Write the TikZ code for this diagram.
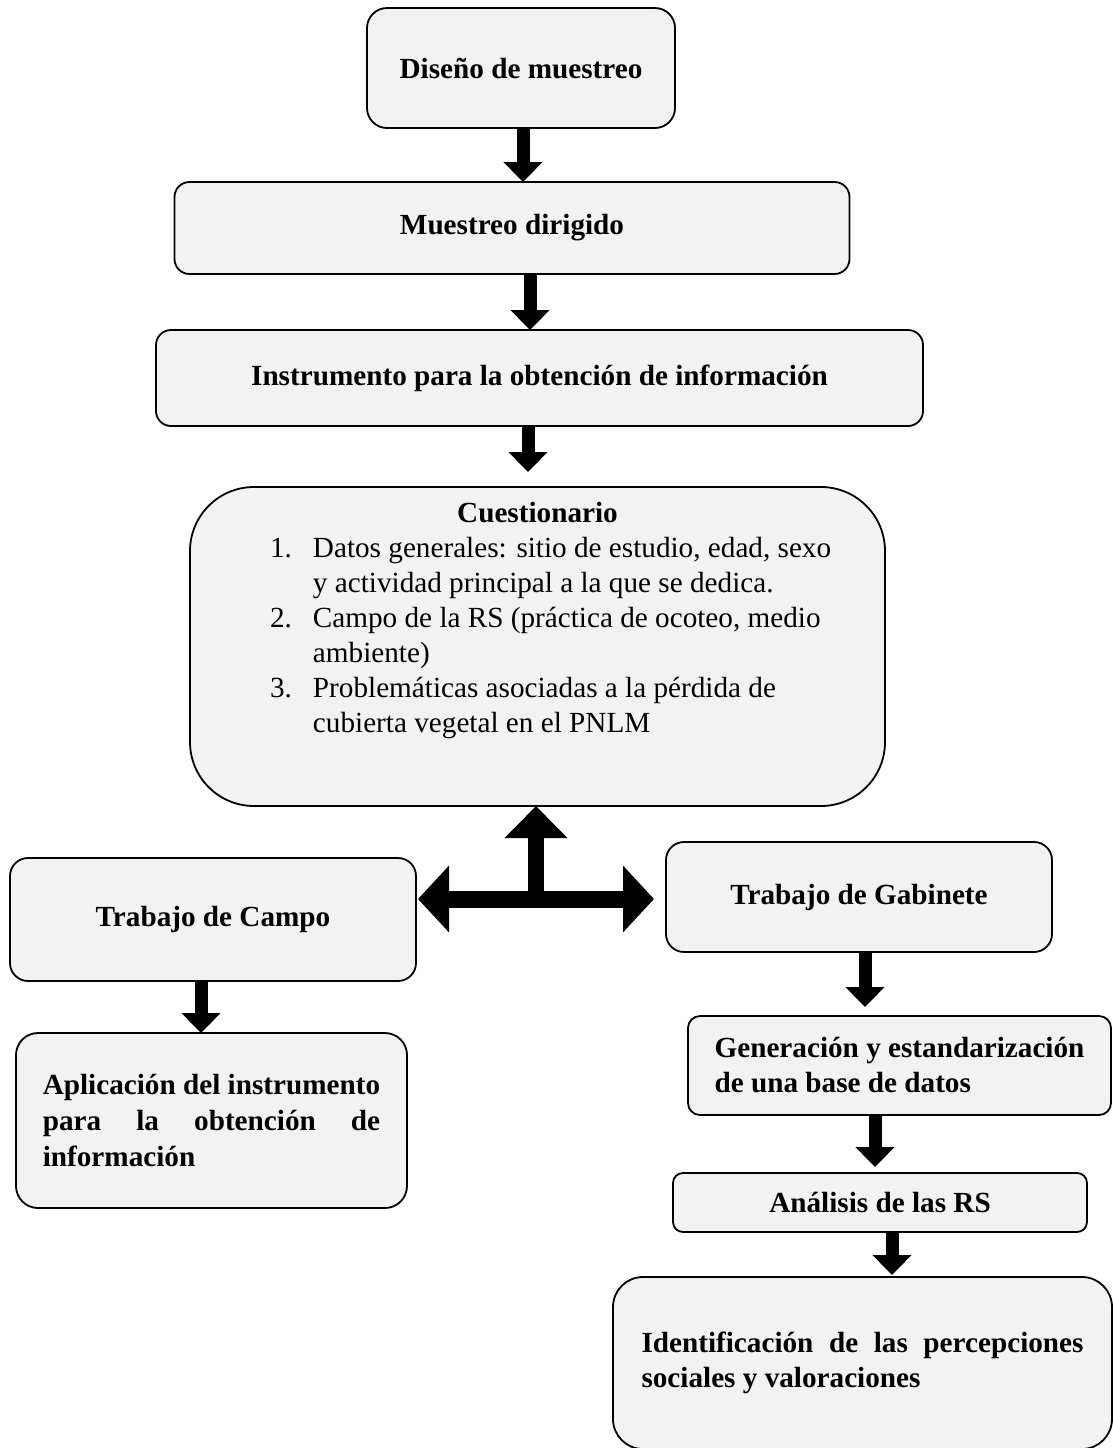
\documentclass[tikz,border=0pt]{standalone}
\usepackage{fontspec}
\setmainfont{Liberation Serif}
\usepackage{calc}
\usepackage{tikz}
\usetikzlibrary{arrows.meta,positioning}
\definecolor{cajagris}{HTML}{F2F2F2}

\begin{document}
\begin{tikzpicture}[font=\fontsize{14.6}{17.5}\selectfont,
  caja/.style={draw, line width=0.9pt, rounded corners=#1, fill=cajagris, inner sep=0pt, outer sep=0pt, font=\fontsize{14.6}{17.5}\selectfont\bfseries},
  caja/.default=8pt,
  arr/.style={line width=6.5pt, -{Triangle[width=19pt,length=10pt]}},
  ancha/.style={line width=8.5pt, -{Triangle[width=32.5pt,length=15.5pt]}}]
\useasboundingbox (0,0) rectangle (556.5pt,-724pt);
% columna central
\node[caja=10pt, minimum width=154pt, minimum height=60pt] (dis) at (260.5pt,-34pt) {Diseño de muestreo};
\node[caja=7.5pt, minimum width=337.5pt, minimum height=46pt, below=27pt of dis, xshift=-4.5pt] (mue) {Muestreo dirigido};
\node[caja=7.5pt, minimum width=383.5pt, minimum height=48pt, below=28pt of mue, xshift=13.75pt] (ins) {Instrumento para la obtención de información};
\node[caja=32pt, minimum width=347.5pt, minimum height=159.5pt, below=30.5pt of ins, xshift=-1pt, font=\fontsize{14.6}{17.5}\selectfont] (cue) {%
  \begin{tabular}{@{\hspace{40pt}}p{21.5pt}@{}p{286pt}@{}}
  \multicolumn{2}{@{}c@{}}{\textbf{Cuestionario}}\\
  1. & Datos generales: sitio de estudio, edad, sexo\\
     & y actividad principal a la que se dedica.\\
  2. & Campo de la RS (práctica de ocoteo, medio\\
     & ambiente)\\
  3. & Problemáticas asociadas a la pérdida de\\
     & cubierta vegetal en el PNLM\\[26pt]
  \end{tabular}};
% ramas
\node[caja=9pt, minimum width=203pt, minimum height=61.5pt, below=26pt of cue, xshift=-162.25pt] (cam) {Trabajo de Campo};
\node[caja=11pt, minimum width=195.5pt, minimum height=87.5pt, below=26pt of cam, xshift=-0.75pt, align=left, font=\fontsize{14.6}{18}\selectfont\bfseries] (apl) {Aplicación del instrumento\\
  \makebox[\widthof{Aplicación del instrumento}][s]{para la obtención de}\\ información};
\node[caja=9pt, minimum width=193pt, minimum height=55pt, below=18pt of cue, xshift=160.75pt] (gab) {Trabajo de Gabinete};
\node[caja=6pt, minimum width=211.5pt, minimum height=49.5pt, below=32pt of gab, xshift=20.25pt, align=left] (gen) {Generación y estandarización\\ de una base de datos};
\node[caja=5pt, minimum width=207pt, minimum height=29.5pt, below=29pt of gen, xshift=-9.75pt] (ana) {Análisis de las RS};
\node[caja=15pt, minimum width=249.5pt, minimum height=86pt, below=22.5pt of ana, xshift=-8.75pt, align=left] (ide) {\makebox[221pt][s]{Identificación de las percepciones}\\ sociales y valoraciones};
% flechas
\foreach \a/\b/\dx/\sh in {dis/mue/1/0, mue/ins/9/0, ins/cue/-5.75/7.5, cam/apl/-6/0, gab/gen/3/4.5, gen/ana/-12.25/3, ana/ide/6/1}
  \draw[arr, shorten >=\sh pt] ([xshift=\dx pt]\a.south) -- ([xshift=\dx pt]\a.south |- \b.north);
\coordinate[below=46.5pt of cue.south, xshift=-0.75pt] (hub);
\draw[line width=8pt, -{Triangle[width=30.5pt,length=16pt]}] (hub) -- (hub |- cue.south);
\draw[ancha, shorten >=1pt] (hub) -- (cam.east |- hub);
\draw[ancha, shorten >=6pt] (hub) -- (gab.west |- hub);
\end{tikzpicture}
\end{document}
